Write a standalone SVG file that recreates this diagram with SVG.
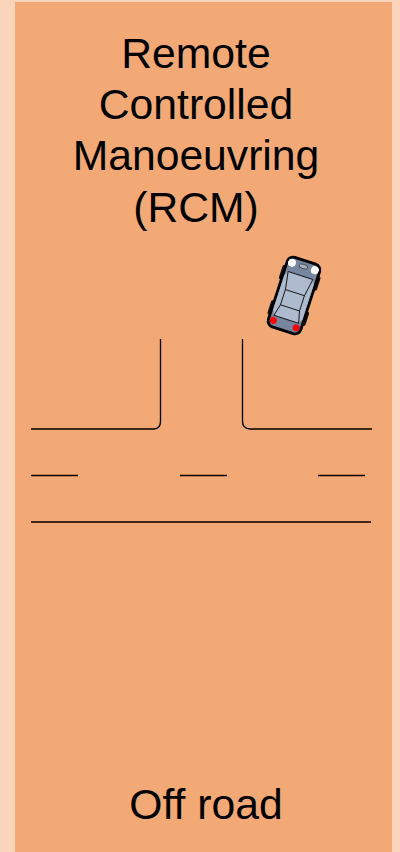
<svg xmlns="http://www.w3.org/2000/svg" width="400" height="852" viewBox="0 0 400 852">
<style>
text{font-family:"Liberation Sans",Arial,sans-serif;font-size:42.670px;fill:#000;text-anchor:middle}
.r{fill:none;stroke:#000;stroke-width:1.330}
</style>
<rect width="400" height="852" fill="#FAD5BC"/>
<rect x="15" y="2" width="377" height="850" fill="#F3A976"/>
<g id="title">
<text x="196" y="67.500">Remote</text>
<text x="196" y="118.500">Controlled</text>
<text x="196" y="170">Manoeuvring</text>
<text x="196" y="221.500">(RCM)</text>
</g>
<g id="road">
<path class="r" d="M31 429H154Q160.500 429 160.500 421V339"/>
<path class="r" d="M242.500 339V421Q242.500 429 250 429H372"/>
<path class="r" d="M31 475.500H78M180 475.500H227M318 475.500H365"/>
<path class="r" d="M31 522H371"/>
</g>
<g id="car" transform="translate(294 295.500) rotate(18)">
<rect x="-20" y="-26" width="6" height="15" rx="2" fill="#111"/>
<rect x="14" y="-26" width="6" height="15" rx="2" fill="#111"/>
<rect x="-20" y="11" width="6" height="15" rx="2" fill="#111"/>
<rect x="14" y="11" width="6" height="15" rx="2" fill="#111"/>
<rect x="-17" y="-36.500" width="34" height="73" rx="6" fill="#76869E" stroke="#000" stroke-width="2.800"/>
<path d="M-13 -21H13L15.500 -16V20L13 25H-13L-15.500 20V-16Z" fill="#AEBACD"/>
<path d="M-13 -21H13L10 -3V13L13 25H-13L-10 13V-3ZM-10 -3H10M-10 13H10" fill="none" stroke="#000" stroke-width="0.800"/>
<ellipse cx="0" cy="-30.500" rx="4.500" ry="2.200" fill="#A5AFBF" stroke="#333" stroke-width="0.700"/>
<circle cx="-12" cy="-30.500" r="4" fill="#fff"/>
<circle cx="12" cy="-30.500" r="4" fill="#fff"/>
<circle cx="-12" cy="30" r="3.500" fill="#f00"/>
<circle cx="12" cy="30" r="3.500" fill="#f00"/>
</g>
<g id="off-road"><text x="206" y="819">Off road</text></g>
</svg>
